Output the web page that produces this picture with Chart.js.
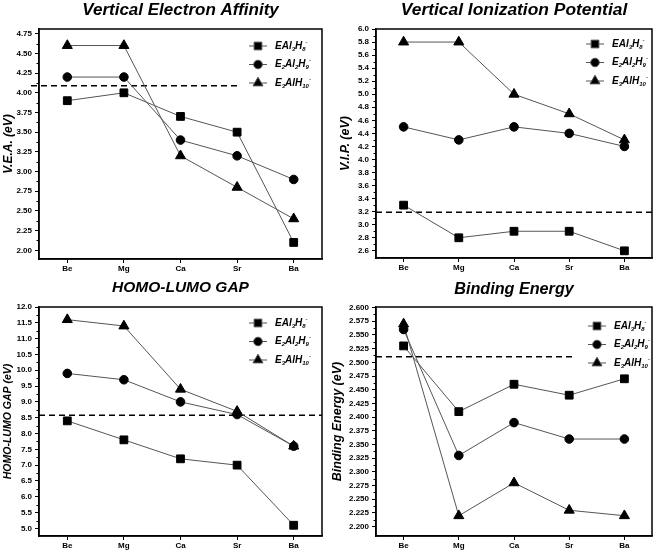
<!DOCTYPE html>
<html>
<head>
<meta charset="utf-8">
<script src="https://cdn.jsdelivr.net/npm/chart.js@4.4.0/dist/chart.umd.min.js"></script>
<style>
  html, body { margin: 0; padding: 0; background: #fff; }
  #wrap { position: relative; width: 661px; height: 554px; }
  .panel { position: absolute; }
</style>
</head>
<body>
<div id="wrap">
  <div class="panel" style="left:0;top:0"><canvas id="c1" width="330" height="277"></canvas></div>
  <div class="panel" style="left:330px;top:0"><canvas id="c2" width="331" height="277"></canvas></div>
  <div class="panel" style="left:0;top:277px"><canvas id="c3" width="330" height="277"></canvas></div>
  <div class="panel" style="left:330px;top:277px"><canvas id="c4" width="331" height="277"></canvas></div>
</div>
<script>
// Categories and series names
const elements = ['Be', 'Mg', 'Ca', 'Sr', 'Ba'];
const seriesLabels = ['EAl₃H₈⁻', 'E₂Al₂H₉⁻', 'E₃AlH₁₀⁻'];

// Vertical electron affinity (eV)
const veaEAl3H8 = [3.9, 4.0, 3.7, 3.5, 2.1];
const veaE2Al2H9 = [4.2, 4.2, 3.4, 3.2, 2.9];
const veaE3AlH10 = [4.6, 4.6, 3.2, 2.8, 2.4];
const veaRef = 4.09;
const veaTicks = ['2.00', '2.25', '2.50', '2.75', '3.00', '3.25', '3.50', '3.75', '4.00', '4.25', '4.50', '4.75'];

// Vertical ionization potential (eV)
const vipEAl3H8 = [3.3, 2.8, 2.9, 2.9, 2.6];
const vipE2Al2H9 = [4.5, 4.3, 4.5, 4.4, 4.2];
const vipE3AlH10 = [5.8, 5.8, 5.0, 4.7, 4.3];
const vipRef = 3.19;
const vipTicks = ['2.6', '2.8', '3.0', '3.2', '3.4', '3.6', '3.8', '4.0', '4.2', '4.4', '4.6', '4.8', '5.0', '5.2', '5.4', '5.6', '5.8', '6.0'];

// HOMO-LUMO gap (eV)
const gapEAl3H8 = [8.4, 7.8, 7.2, 7.0, 5.1];
const gapE2Al2H9 = [9.9, 9.7, 9.0, 8.6, 7.6];
const gapE3AlH10 = [11.6, 11.4, 9.4, 8.7, 7.6];
const gapRef = 8.58;
const gapTicks = ['5.0', '5.5', '6.0', '6.5', '7.0', '7.5', '8.0', '8.5', '9.0', '9.5', '10.0', '10.5', '11.0', '11.5', '12.0'];

// Binding energy (eV)
const beEAl3H8 = [2.53, 2.41, 2.46, 2.44, 2.47];
const beE2Al2H9 = [2.56, 2.33, 2.39, 2.36, 2.36];
const beE3AlH10 = [2.57, 2.22, 2.28, 2.23, 2.22];
const beRef = 2.51;
const beTicks = ['2.200', '2.225', '2.250', '2.275', '2.300', '2.325', '2.350', '2.375', '2.400', '2.425', '2.450', '2.475', '2.500', '2.525', '2.550', '2.575', '2.600'];

const FONT = '"Liberation Sans", Arial, Helvetica, sans-serif';
const pointStyles = ['rect', 'circle', 'triangle'];
const pointRadii = [5.5, 4.3, 5.8];

// legend area (marker column + rows), relative to the chart area
function legendBox(chart, o) {
  const a = chart.chartArea;
  const mx = a.right - o.legendDx;
  const y0 = a.top + o.legendDy;
  return { mx, y0, gap: 18.5, left: mx - 21, right: a.right - 1, top: y0 - 10, bottom: y0 + 37 + 10 };
}

// text with subscript / superscript characters drawn small and shifted
function drawRich(ctx, text, x, y, size) {
  const subs = '₀₁₂₃₄₅₆₇₈₉';
  for (const ch of text) {
    let c = ch, s = size, dy = 0;
    const k = subs.indexOf(ch);
    if (k >= 0) { c = String(k); s = size * 0.6; dy = size * 0.32; }
    else if (ch === '⁻') { c = '-'; s = size * 0.6; dy = -size * 0.38; }
    ctx.font = 'italic bold ' + s + 'px ' + FONT;
    ctx.fillText(c, x, y + dy);
    x += ctx.measureText(c).width;
  }
}

const panelDeco = {
  id: 'panelDeco',
  beforeDatasetsDraw(chart, args, o) {
    const { ctx, chartArea: a } = chart;
    const y = chart.scales.y;
    const yp = y.getPixelForValue(o.ref);
    const box = legendBox(chart, o);
    const x2 = (yp > box.top && yp < box.bottom) ? box.left : a.right;
    ctx.save();
    ctx.setLineDash([6, 4]);
    ctx.lineWidth = 1.5;
    ctx.strokeStyle = '#000';
    ctx.beginPath();
    ctx.moveTo(a.left - (o.refLead || 0), yp);
    ctx.lineTo(x2, yp);
    ctx.stroke();
    ctx.restore();
  },
  afterDatasetsDraw(chart, args, o) {
    const { ctx, chartArea: a } = chart;
    const y = chart.scales.y;
    ctx.save();
    // minor ticks on the y axis
    ctx.strokeStyle = '#000';
    ctx.lineWidth = 1;
    const tv = y.ticks.map(t => t.value);
    for (let i = 0; i < tv.length - 1; i++) {
      const p = Math.round(y.getPixelForValue((tv[i] + tv[i + 1]) / 2)) + 0.5;
      ctx.beginPath(); ctx.moveTo(a.left, p); ctx.lineTo(a.left - 2.5, p); ctx.stroke();
    }
    // box frame
    ctx.lineWidth = 1.5;
    ctx.strokeRect(a.left, a.top, a.right - a.left, a.bottom - a.top);
    // legend
    const box = legendBox(chart, o);
    ctx.textBaseline = 'middle';
    ctx.textAlign = 'left';
    chart.data.datasets.forEach((ds, i) => {
      const yy = box.y0 + i * box.gap;
      ctx.strokeStyle = '#555';
      ctx.lineWidth = 1;
      ctx.beginPath(); ctx.moveTo(box.mx - 9, yy); ctx.lineTo(box.mx + 9, yy); ctx.stroke();
      Chart.helpers.drawPoint(ctx, { pointStyle: ds.pointStyle, radius: ds.pointRadius, borderWidth: 1 }, box.mx, yy);
      ctx.fillStyle = '#000';
      drawRich(ctx, ds.label, box.mx + 17, yy, 10);
    });
    ctx.restore();
  }
};

function makeChart(id, p) {
  const canvas = document.getElementById(id);
  const lh = p.titleSize * 1.2;
  const padTop = p.titleY - lh / 2;
  const padBottom = p.top - lh - padTop;
  const tickVals = p.ticks.map(Number);
  return new Chart(canvas, {
    type: 'line',
    data: {
      labels: elements,
      datasets: p.series.map((vals, i) => ({
        label: seriesLabels[i],
        data: vals,
        borderColor: '#555',
        borderWidth: 1,
        pointStyle: pointStyles[i],
        pointRadius: pointRadii[i],
        pointBackgroundColor: '#000',
        pointBorderColor: '#000',
        pointBorderWidth: 1,
        tension: 0
      }))
    },
    options: {
      responsive: false,
      animation: false,
      layout: { padding: { left: 0, right: canvas.width - p.right, top: 0, bottom: 0 } },
      plugins: {
        legend: { display: false },
        tooltip: { enabled: false },
        title: {
          display: true,
          text: p.title,
          fullSize: false,
          color: '#000',
          font: { family: FONT, size: p.titleSize, weight: 'bold', style: 'italic', lineHeight: 1.2 },
          padding: { top: padTop, bottom: padBottom }
        },
        panelDeco: { ref: p.ref, legendDx: p.legendDx, legendDy: p.legendDy, refLead: p.refLead }
      },
      scales: {
        x: {
          type: 'category',
          offset: true,
          grid: { offset: false, drawOnChartArea: false, tickLength: 4, color: '#000' },
          border: { color: '#000', width: 1.5 },
          ticks: { color: '#000', padding: 1, maxRotation: 0, font: { family: FONT, size: 8, weight: 'bold' } },
          afterFit(scale) { scale.height = canvas.height - p.bottom; }
        },
        y: {
          type: 'linear',
          min: p.min,
          max: p.max,
          afterBuildTicks(scale) { scale.ticks = tickVals.map(v => ({ value: v })); },
          afterFit(scale) { scale.width = p.left; },
          grid: { drawOnChartArea: false, tickLength: 4, color: '#000' },
          border: { color: '#000', width: 1.5 },
          ticks: {
            color: '#000',
            padding: 3,
            font: { family: FONT, size: 8, weight: 'bold' },
            callback: (v, i) => p.ticks[i]
          },
          title: {
            display: true,
            text: p.yTitle,
            color: '#000',
            font: { family: FONT, size: p.yTitleSize, weight: 'bold', style: 'italic', lineHeight: 1.2 },
            padding: { top: p.yTitleX - p.yTitleSize * 0.6, bottom: 0 }
          }
        }
      }
    },
    plugins: [panelDeco]
  });
}

makeChart('c1', {
  title: 'Vertical Electron Affinity', titleSize: 17, titleY: 10,
  yTitle: 'V.E.A. (eV)', yTitleSize: 12, yTitleX: 8.5,
  series: [veaEAl3H8, veaE2Al2H9, veaE3AlH10], ref: veaRef, ticks: veaTicks,
  min: 1.89, max: 4.81, left: 39, right: 322, top: 29, bottom: 259,
  legendDx: 64, legendDy: 17, refLead: 8
});
makeChart('c2', {
  title: 'Vertical Ionization Potential', titleSize: 17.4, titleY: 10,
  yTitle: 'V.I.P. (eV)', yTitleSize: 12.5, yTitleX: 16,
  series: [vipEAl3H8, vipE2Al2H9, vipE3AlH10], ref: vipRef, ticks: vipTicks,
  min: 2.49, max: 6.0, left: 46, right: 322, top: 29, bottom: 258,
  legendDx: 57, legendDy: 15, refLead: 0
});
makeChart('c3', {
  title: 'HOMO-LUMO GAP', titleSize: 15.5, titleY: 11,
  yTitle: 'HOMO-LUMO GAP (eV)', yTitleSize: 10.5, yTitleX: 8.5,
  series: [gapEAl3H8, gapE2Al2H9, gapE3AlH10], ref: gapRef, ticks: gapTicks,
  min: 4.76, max: 12.0, left: 39, right: 322, top: 30, bottom: 259,
  legendDx: 64, legendDy: 16, refLead: 0
});
makeChart('c4', {
  title: 'Binding Energy', titleSize: 16.2, titleY: 13,
  yTitle: 'Binding Energy (eV)', yTitleSize: 12.5, yTitleX: 8,
  series: [beEAl3H8, beE2Al2H9, beE3AlH10], ref: beRef, ticks: beTicks,
  min: 2.183, max: 2.601, left: 46, right: 322, top: 30, bottom: 259,
  legendDx: 55, legendDy: 19, refLead: 0
});
</script>
</body>
</html>
